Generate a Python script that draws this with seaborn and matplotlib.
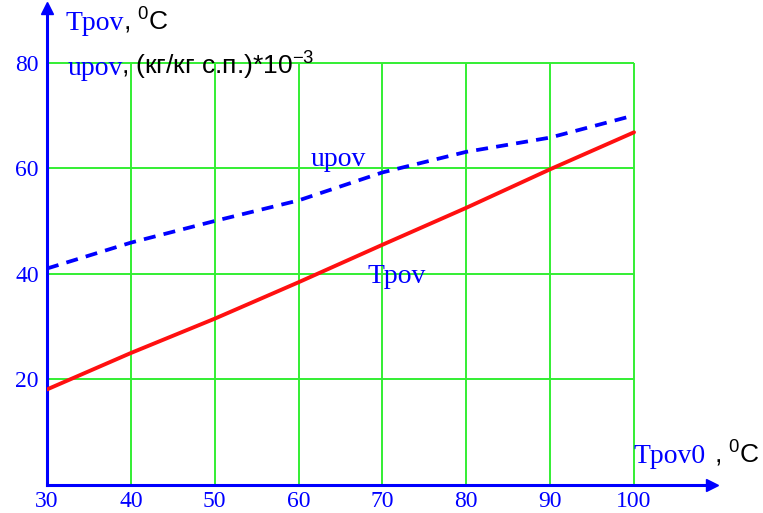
import matplotlib
matplotlib.use("Agg")
import matplotlib.pyplot as plt
import seaborn as sns
import pandas as pd

# Data
tpov0 = [30, 40, 50, 60, 70, 80, 90, 100]
tpov = [18.1, 25.0, 31.5, 38.4, 45.5, 52.5, 59.8, 66.8]
upov = [41.0, 45.9, 50.0, 53.9, 59.2, 63.1, 65.8, 70.0]
x_ticks = [30, 40, 50, 60, 70, 80, 90, 100]
y_ticks = [20, 40, 60, 80]

sns.set_style("white")
plt.rcParams['font.family'] = ['Liberation Serif', 'DejaVu Serif']
plt.rcParams['mathtext.fontset'] = 'custom'
plt.rcParams['mathtext.rm'] = 'Liberation Sans'
plt.rcParams['mathtext.it'] = 'Liberation Sans'
plt.rcParams['mathtext.default'] = 'regular'

W, H = 763, 513
fig = plt.figure(figsize=(W / 100, H / 100), dpi=100)
left_px, right_px, bottom_px, top_px = 47, 712, 485, 8
ax = fig.add_axes([left_px / W, (H - bottom_px) / H, (right_px - left_px) / W, (bottom_px - top_px) / H])
xmax = 30 + (right_px - left_px) / 8.386
ymax = (bottom_px - top_px) / 5.28
ax.set_xlim(30, xmax)
ax.set_ylim(0, ymax)

blue = "#0000ff"
green = "#33ee33"

# grid limited to the box
ax.hlines(y_ticks, 30, 100, colors=green, lw=1.4, zorder=1)
ax.vlines(x_ticks[1:], 0, 80, colors=green, lw=1.4, zorder=1)

df = pd.DataFrame({"Tpov0": tpov0, "Tpov": tpov, "upov": upov})
sns.lineplot(data=df, x="Tpov0", y="Tpov", ax=ax, color="#ff1010", lw=2.8, zorder=3)
sns.lineplot(data=df, x="Tpov0", y="upov", ax=ax, color=blue, lw=2.7, zorder=3)
ax.lines[-1].set_dashes([3.2, 2.2])

for s in ["top", "right"]:
    ax.spines[s].set_visible(False)
for s in ["left", "bottom"]:
    ax.spines[s].set_color(blue)
    ax.spines[s].set_linewidth(2.2)

# arrows
ax.plot(1, 0, ">", transform=ax.transAxes, color=blue, ms=9, clip_on=False)
ax.plot(0, 1, "^", transform=ax.transAxes, color=blue, ms=9, clip_on=False)

ax.set_xticks(x_ticks)
ax.set_yticks(y_ticks)
ax.tick_params(axis="both", colors=blue, direction="inout", length=8, width=1.5,
               labelsize=17, labelcolor=blue, pad=2)
ax.tick_params(axis="x", pad=0)
ax.set_xlabel("")
ax.set_ylabel("")

sans = ["Liberation Sans", "DejaVu Sans"]
# axis titles
fig.text(65 / W, 1 - 30 / H, "Tpov", color=blue, fontsize=20, va="baseline", ha="left")
fig.text(123 / W, 1 - 30 / H, ", $^{0}$C", color="black", fontsize=19, va="baseline", ha="left", family=sans)
fig.text(68 / W, 1 - 75 / H, "upov", color=blue, fontsize=20, va="baseline", ha="left")
fig.text(121 / W, 1 - 75 / H, ", (кг/кг с.п.)*10$^{-3}$", color="black", fontsize=19, va="baseline",
         ha="left", family=sans)
fig.text(633 / W, 1 - 463 / H, "Tpov0", color=blue, fontsize=20, va="baseline", ha="left")
fig.text(760 / W, 1 - 463 / H, ", $^{0}$C", color="black", fontsize=19, va="baseline", ha="right", family=sans)

# series labels
ax.text(61.4, 61.6, "upov", color=blue, fontsize=20, va="center", ha="left")
ax.text(68.2, 39.4, "Tpov", color=blue, fontsize=20, va="center", ha="left")

fig.savefig("out.png", dpi=100)
